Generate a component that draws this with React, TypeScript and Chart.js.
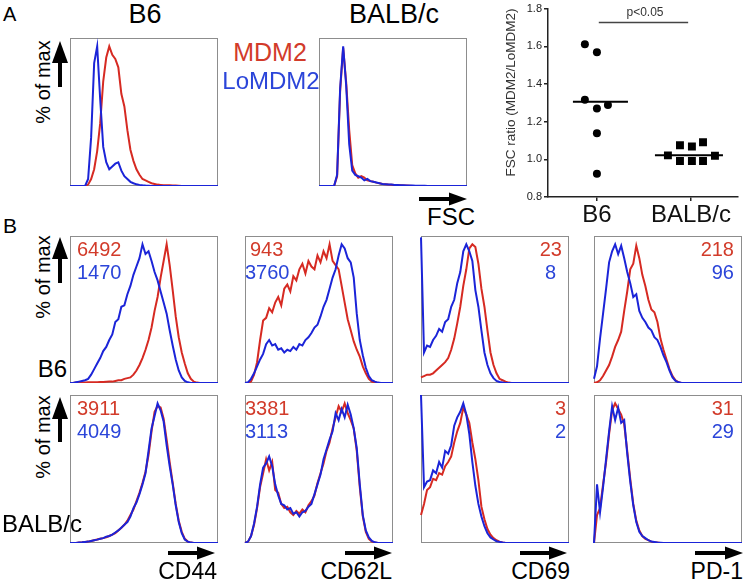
import React, { useEffect, useRef } from 'react';
import { Chart, registerables } from 'chart.js';

Chart.register(...registerables);

const FONT = '"Liberation Sans", Arial, Helvetica, sans-serif';
Chart.defaults.font.family = FONT;

const RED = '#d62a22';
const BLUE = '#1b24d8';
const RED_TEXT = '#d23b2a';
const BLUE_TEXT = '#2b45d9';
const Y_MAX = 106;
const PAD = 3;

// channel (bin) index, 50 bins across each histogram
const CHANNELS = [
  0, 1, 2, 3, 4, 5, 6, 7, 8, 9, 10, 11, 12, 13, 14, 15, 16, 17, 18, 19, 20, 21, 22, 23, 24,
  25, 26, 27, 28, 29, 30, 31, 32, 33, 34, 35, 36, 37, 38, 39, 40, 41, 42, 43, 44, 45, 46, 47, 48, 49,
];

// Panel A: FSC, % of max
const FSC_B6_MDM2 = [0, 0, 0, 0, 0, 0, 1, 5, 12, 25, 45, 75, 92, 100, 94, 91, 85, 66, 57, 40, 26, 18, 12, 8, 5, 4, 3, 2, 1.5, 1, 0.8, 0.6, 0.5, 0.5, 0.4, 0.3, 0.2, 0, 0, 0, 0, 0, 0, 0, 0, 0, 0, 0, 0, 0];
const FSC_B6_LO = [0, 0, 0, 0, 0, 0, 5, 35, 88, 100, 62, 28, 17, 12, 14, 16, 17, 11, 7, 5, 3, 2, 1.2, 0.8, 0.5, 0.3, 0.2, 0, 0, 0, 0, 0, 0, 0, 0, 0, 0, 0, 0, 0, 0, 0, 0, 0, 0, 0, 0, 0, 0, 0];
const FSC_BALB_MDM2 = [0, 0, 0, 0, 0, 0, 7, 68, 99, 74, 40, 15, 9, 6, 7, 6, 4, 3.5, 3, 2.4, 2, 1.5, 1.3, 1, 0.9, 0.7, 0.6, 0.5, 0.4, 0.3, 0.2, 0, 0, 0, 0, 0, 0, 0, 0, 0, 0, 0, 0, 0, 0, 0, 0, 0, 0, 0];
const FSC_BALB_LO = [0, 0, 0, 0, 0, 0, 8, 70, 100, 72, 30, 11, 8, 7, 6, 4, 5, 3.5, 3, 2.5, 2, 1.5, 1.3, 1.1, 1, 0.8, 0.7, 0.6, 0.5, 0.4, 0.3, 0.3, 0.2, 0.2, 0.2, 0.1, 0, 0, 0, 0, 0, 0, 0, 0, 0, 0, 0, 0, 0, 0];

// Panel B, B6 row
const CD44_B6_MDM2 = [0, 0, 0.3, 0.3, 0.4, 0.4, 0.5, 0.5, 0.6, 0.6, 0.7, 0.8, 0.9, 1, 1, 1.5, 2, 2, 3, 3.5, 4, 6, 9, 13, 18, 24, 31, 40, 52, 62, 76, 88, 100, 85, 67, 48, 33, 22, 14, 7, 3, 1, 0.3, 0, 0, 0, 0, 0, 0, 0];
const CD44_B6_LO = [0, 0, 0.5, 1, 1.5, 2, 3, 6, 10, 14, 18, 23, 26, 31, 35, 44, 46, 55, 56, 64, 70, 78, 84, 90, 100, 93, 95, 88, 80, 74, 66, 58, 50, 38, 27, 17, 9, 4, 1.5, 0.5, 0, 0, 0, 0, 0, 0, 0, 0, 0, 0];
const CD62L_B6_MDM2 = [0, 0, 1, 6, 15, 31, 45, 47, 54, 51, 58, 62, 56, 68, 71, 66, 77, 74, 82, 86, 79, 88, 84, 82, 92, 87, 95, 90, 100, 88, 85, 82, 70, 58, 46, 38, 30, 24, 19, 12, 7, 3, 1, 0.3, 0, 0, 0, 0, 0, 0];
const CD62L_B6_LO = [0, 0.5, 3, 7, 12, 17, 21, 28, 31, 27, 28, 24, 25, 22, 24, 23, 26, 24, 28, 27, 31, 33, 36, 40, 42, 48, 55, 60, 68, 76, 82, 92, 100, 97, 90, 87, 76, 50, 31, 20, 11, 5, 2, 1, 0.3, 0, 0, 0, 0, 0];
const CD69_B6_MDM2 = [4, 5, 6, 6, 7, 9, 11, 13, 15, 18, 24, 32, 43, 55, 70, 82, 97, 100, 98, 86, 68, 55, 38, 22, 13, 7, 3, 2, 1, 0.3, 0, 0, 0, 0, 0, 0, 0, 0, 0, 0, 0, 0, 0, 0, 0, 0, 0, 0, 0, 0];
const CD69_B6_LO = [105, 22, 27, 26, 31, 34, 39, 37, 44, 46, 55, 60, 72, 80, 95, 100, 95, 88, 67, 55, 38, 22, 13, 7, 3.5, 1.5, 0.7, 0.3, 0, 0, 0, 0, 0, 0, 0, 0, 0, 0, 0, 0, 0, 0, 0, 0, 0, 0, 0, 0, 0, 0];
const PD1_B6_MDM2 = [0, 0.5, 2, 5, 9, 13, 19, 26, 31, 37, 52, 66, 82, 86, 99, 90, 78, 70, 60, 53, 51, 44, 32, 24, 17, 10, 5, 2, 0.5, 0, 0, 0, 0, 0, 0, 0, 0, 0, 0, 0, 0, 0, 0, 0, 0, 0, 0, 0, 0, 0];
const PD1_B6_LO = [3, 12, 32, 50, 68, 87, 95, 100, 93, 99, 90, 80, 72, 62, 64, 52, 47, 44, 40, 38, 33, 31, 26, 20, 15, 9, 4, 1.5, 0.5, 0, 0, 0, 0, 0, 0, 0, 0, 0, 0, 0, 0, 0, 0, 0, 0, 0, 0, 0, 0, 0];

// Panel B, BALB/c row
const CD44_BALB_MDM2 = [0, 0, 0, 0.3, 0.5, 0.8, 1, 1.5, 2, 2.5, 3, 3.5, 4, 5, 6, 7, 9, 11, 13, 16, 20, 24, 30, 36, 43, 51, 63, 80, 94, 98, 97, 89, 74, 58, 43, 28, 16, 8, 3, 1, 0.3, 0, 0, 0, 0, 0, 0, 0, 0, 0];
const CD44_BALB_LO = [0, 0, 0, 0.3, 0.5, 0.8, 1, 1.5, 2, 2.4, 3, 3.5, 4.5, 5, 6, 7.5, 9, 11, 13, 15, 19, 25, 29, 35, 42, 50, 66, 82, 91, 100, 95, 87, 70, 55, 42, 27, 15, 7, 2.5, 1, 0.3, 0, 0, 0, 0, 0, 0, 0, 0, 0];
const CD62L_BALB_MDM2 = [0, 1, 5, 13, 25, 40, 50, 60, 52, 58, 38, 36, 28, 25, 26, 22, 20, 23, 21, 24, 22, 27, 30, 34, 43, 50, 57, 66, 72, 82, 90, 98, 94, 100, 93, 88, 82, 66, 40, 19, 8, 3, 1, 0.4, 0, 0, 0, 0, 0, 0];
const CD62L_BALB_LO = [0, 1, 5, 14, 26, 42, 54, 57, 62, 55, 42, 34, 28, 27, 24, 25, 21, 22, 19, 22, 23, 26, 28, 35, 42, 49, 60, 67, 74, 80, 93, 88, 96, 90, 99, 92, 82, 68, 42, 20, 9, 4, 1.5, 0.5, 0, 0, 0, 0, 0, 0];
const CD69_BALB_MDM2 = [20, 28, 38, 40, 46, 45, 50, 49, 55, 58, 62, 72, 80, 86, 97, 92, 86, 72, 60, 45, 26, 17, 10, 6, 3.5, 2, 1, 0.4, 0, 0, 0, 0, 0, 0, 0, 0, 0, 0, 0, 0, 0, 0, 0, 0, 0, 0, 0, 0, 0, 0];
const CD69_BALB_LO = [106, 40, 44, 45, 52, 50, 58, 54, 66, 64, 70, 84, 90, 94, 100, 92, 78, 58, 41, 28, 19, 12, 7, 4, 2.5, 1.3, 0.8, 0.3, 0, 0, 0, 0, 0, 0, 0, 0, 0, 0, 0, 0, 0, 0, 0, 0, 0, 0, 0, 0, 0, 0];
const PD1_BALB_MDM2 = [0, 20, 25, 42, 58, 78, 95, 100, 96, 92, 85, 66, 46, 28, 16, 9, 5, 3, 2, 1, 0.5, 0.3, 0, 0, 0, 0, 0, 0, 0, 0, 0, 0, 0, 0, 0, 0, 0, 0, 0, 0, 0, 0, 0, 0, 0, 0, 0, 0, 0, 0];
const PD1_BALB_LO = [0, 42, 22, 40, 60, 80, 98, 88, 97, 86, 88, 64, 44, 27, 15, 8, 5, 3.5, 2, 1, 0.7, 0.4, 0.2, 0, 0, 0, 0, 0, 0, 0, 0, 0, 0, 0, 0, 0, 0, 0, 0, 0, 0, 0, 0, 0, 0, 0, 0, 0, 0, 0];

// MFI numbers
const MFI_B6_MDM2 = ['6492', '943', '23', '218'];
const MFI_B6_LO = ['1470', '3760', '8', '96'];
const MFI_BALB_MDM2 = ['3911', '3381', '3', '31'];
const MFI_BALB_LO = ['4049', '3113', '2', '29'];
const MARKERS = ['CD44', 'CD62L', 'CD69', 'PD-1'];

// Dot plot: FSC ratio (MDM2/LoMDM2)
const GROUPS = ['B6', 'BALB/c'];
const GROUP_POS = [1, 2];
const B6_RATIO = [1.611, 1.568, 1.316, 1.27, 1.288, 1.139, 0.923];
const B6_JITTER = [-0.128, 0, -0.128, 0, 0.117, 0, 0];
const BALB_RATIO = [1.021, 1.075, 1.068, 1.091, 0.991, 0.991, 0.991, 1.019];
const BALB_JITTER = [-0.245, -0.117, 0.01, 0.128, -0.117, 0.01, 0.128, 0.255];
const MEDIANS = [1.305, 1.021];
const MEDIAN_HALF = [[-0.255, 0.33], [-0.383, 0.34]];
const SIG_Y = 1.726;
const SIG_X = [1.02, 1.97];

type HistProps = { left: number; top: number; w: number; h: number; mdm2: number[]; lo: number[] };

function Histogram({ left, top, w, h, mdm2, lo }: HistProps) {
  const ref = useRef<HTMLCanvasElement>(null);
  useEffect(() => {
    const chart = new Chart(ref.current as HTMLCanvasElement, {
      type: 'line',
      data: {
        labels: CHANNELS,
        datasets: [
          { label: 'LoMDM2', data: lo, borderColor: BLUE, borderWidth: 2, pointRadius: 0, tension: 0, fill: false, order: 0 },
          { label: 'MDM2', data: mdm2, borderColor: RED, borderWidth: 2, pointRadius: 0, tension: 0, fill: false, order: 1 },
        ],
      },
      options: {
        responsive: false,
        animation: false,
        devicePixelRatio: 1,
        events: [],
        layout: { padding: PAD },
        scales: {
          x: { display: false, offset: false },
          y: { display: false, min: 0, max: Y_MAX },
        },
        plugins: { legend: { display: false }, tooltip: { enabled: false } },
      },
    });
    return () => chart.destroy();
  }, []);
  return (
    <>
      <div style={{ position: 'absolute', left, top, width: w, height: h, border: '1px solid #8d8d8d', boxSizing: 'border-box' }} />
      <canvas
        ref={ref}
        width={w + 2 * PAD}
        height={h + 2 * PAD}
        style={{ position: 'absolute', left: left - PAD, top: top - PAD, width: w + 2 * PAD, height: h + 2 * PAD }}
      />
    </>
  );
}

function DotPlot() {
  const ref = useRef<HTMLCanvasElement>(null);
  useEffect(() => {
    const b6 = B6_RATIO.map((y, i) => ({ x: GROUP_POS[0] + B6_JITTER[i], y }));
    const balb = BALB_RATIO.map((y, i) => ({ x: GROUP_POS[1] + BALB_JITTER[i], y }));
    const med = MEDIANS.map((m, i) => [
      { x: GROUP_POS[i] + MEDIAN_HALF[i][0], y: m },
      { x: GROUP_POS[i] + MEDIAN_HALF[i][1], y: m },
    ]);
    const chart = new Chart(ref.current as HTMLCanvasElement, {
      type: 'scatter',
      data: {
        datasets: [
          { label: 'B6', data: b6, pointStyle: 'circle', pointRadius: 4, backgroundColor: '#000', borderColor: '#000', borderWidth: 0 },
          { label: 'BALB/c', data: balb, pointStyle: 'rect', pointRadius: 5.6, backgroundColor: '#000', borderColor: '#000', borderWidth: 0 },
          { label: 'median B6', data: med[0], showLine: true, pointRadius: 0, borderColor: '#000', borderWidth: 2 },
          { label: 'median BALB/c', data: med[1], showLine: true, pointRadius: 0, borderColor: '#000', borderWidth: 2 },
          { label: 'p', data: SIG_X.map((x) => ({ x, y: SIG_Y })), showLine: true, pointRadius: 0, borderColor: '#444', borderWidth: 1.6 },
        ],
      },
      options: {
        responsive: false,
        animation: false,
        devicePixelRatio: 1,
        events: [],
        layout: { padding: { left: 9, top: 7, right: 6, bottom: 0 } },
        scales: {
          x: {
            type: 'linear',
            min: 0.48,
            max: 2.5,
            afterBuildTicks: (s: any) => {
              s.ticks = GROUP_POS.map((v) => ({ value: v }));
            },
            afterFit: (s: any) => {
              s.height = 33;
            },
            grid: { drawOnChartArea: false, drawTicks: true, tickLength: 4, color: '#222', lineWidth: 1.5 },
            border: { display: true, color: '#222', width: 1.5 },
            ticks: {
              autoSkip: false,
              maxRotation: 0,
              padding: 0,
              color: '#111',
              font: { size: 24 },
              callback: (v: any) => {
                const i = GROUP_POS.indexOf(Number(v));
                return i >= 0 ? GROUPS[i] : '';
              },
            },
          },
          y: {
            min: 0.8,
            max: 1.8,
            afterFit: (s: any) => {
              s.width = 49;
            },
            grid: { drawOnChartArea: false, drawTicks: true, tickLength: 4, color: '#222', lineWidth: 1.5 },
            border: { display: true, color: '#222', width: 1.5 },
            ticks: { stepSize: 0.2, padding: 2, color: '#222', font: { size: 11 }, callback: (v: any) => Number(v).toFixed(1) },
            title: { display: true, text: 'FSC ratio (MDM2/LoMDM2)', color: '#333', align: 'end', font: { size: 13.5 }, padding: { top: 4, bottom: 0 } },
          },
        },
        plugins: { legend: { display: false }, tooltip: { enabled: false } },
      },
    });
    return () => chart.destroy();
  }, []);
  return <canvas ref={ref} width={254} height={230} style={{ position: 'absolute', left: 490, top: 0, width: 254, height: 230 }} />;
}

type LabelProps = { x: number; y: number; size: number; color?: string; align?: 'left' | 'center' | 'right'; children: React.ReactNode };

function Label({ x, y, size, color = '#000', align = 'left', children }: LabelProps) {
  const tx = align === 'center' ? '-50%' : align === 'right' ? '-100%' : '0';
  return (
    <div
      style={{
        position: 'absolute',
        left: x,
        top: y - 0.13 * size,
        fontSize: size,
        lineHeight: 1,
        color,
        whiteSpace: 'nowrap',
        transform: `translateX(${tx})`,
        fontFamily: FONT,
      }}
    >
      {children}
    </div>
  );
}

function VLabel({ cx, cy, size, children }: { cx: number; cy: number; size: number; children: React.ReactNode }) {
  return (
    <div
      style={{
        position: 'absolute',
        left: cx,
        top: cy,
        fontSize: size,
        lineHeight: 1,
        whiteSpace: 'nowrap',
        transform: 'translate(-50%, -50%) rotate(-90deg)',
        fontFamily: FONT,
      }}
    >
      {children}
    </div>
  );
}

function ArrowRight({ x1, x2, y }: { x1: number; x2: number; y: number }) {
  const L = x2 - x1;
  return (
    <svg style={{ position: 'absolute', left: x1, top: y - 7, overflow: 'visible' }} width={L} height={14}>
      <rect x={0} y={5} width={L - 17} height={4} fill="#000" />
      <polygon points={`${L - 18},0.5 ${L},7 ${L - 18},13.5`} fill="#000" />
    </svg>
  );
}

function ArrowUp({ x, y1, y2 }: { x: number; y1: number; y2: number }) {
  const L = y2 - y1;
  return (
    <svg style={{ position: 'absolute', left: x - 8, top: y1, overflow: 'visible' }} width={16} height={L}>
      <polygon points={`8,0 16,22 0,22`} fill="#000" />
      <rect x={6} y={21} width={4} height={L - 21} fill="#000" />
    </svg>
  );
}

const B_X = [70, 245, 421, 594];
const B_W = 148;
const ROW1_TOP = 236;
const ROW2_TOP = 395;

export default function App() {
  useEffect(() => {
    document.body.style.margin = '0';
  }, []);
  const row1 = [
    [CD44_B6_MDM2, CD44_B6_LO],
    [CD62L_B6_MDM2, CD62L_B6_LO],
    [CD69_B6_MDM2, CD69_B6_LO],
    [PD1_B6_MDM2, PD1_B6_LO],
  ];
  const row2 = [
    [CD44_BALB_MDM2, CD44_BALB_LO],
    [CD62L_BALB_MDM2, CD62L_BALB_LO],
    [CD69_BALB_MDM2, CD69_BALB_LO],
    [PD1_BALB_MDM2, PD1_BALB_LO],
  ];
  const numPos: { x: number; align: 'left' | 'right' }[][] = [
    [{ x: 77, align: 'left' }, { x: 77, align: 'left' }],
    [{ x: 250, align: 'left' }, { x: 245, align: 'left' }],
    [{ x: 562, align: 'right' }, { x: 556, align: 'right' }],
    [{ x: 734, align: 'right' }, { x: 734, align: 'right' }],
  ];
  const numPos2: { x: number; align: 'left' | 'right' }[][] = [
    [{ x: 77, align: 'left' }, { x: 77, align: 'left' }],
    [{ x: 245, align: 'left' }, { x: 245, align: 'left' }],
    [{ x: 566, align: 'right' }, { x: 566, align: 'right' }],
    [{ x: 734, align: 'right' }, { x: 734, align: 'right' }],
  ];
  const arrowX: [number, number][] = [
    [168, 215],
    [345, 392],
    [520, 567],
    [695, 743],
  ];
  const markerRight = [217, 392, 570, 743];
  return (
    <div style={{ position: 'absolute', left: 0, top: 0, width: 744, height: 586, background: '#fff', overflow: 'hidden', fontFamily: FONT }}>
      {/* Panel A */}
      <Label x={3} y={7} size={20}>A</Label>
      <Label x={145} y={5} size={27} align="center">B6</Label>
      <Label x={394} y={5} size={27} align="center">BALB/c</Label>
      <VLabel cx={43} cy={82} size={20}>% of max</VLabel>
      <ArrowUp x={60} y1={41} y2={87} />
      <Histogram left={70} top={38} w={148} h={148} mdm2={FSC_B6_MDM2} lo={FSC_B6_LO} />
      <Histogram left={319} top={38} w={148} h={148} mdm2={FSC_BALB_MDM2} lo={FSC_BALB_LO} />
      <Label x={270} y={43} size={25} color={RED_TEXT} align="center">MDM2</Label>
      <Label x={271} y={72} size={24} color={BLUE_TEXT} align="center">LoMDM2</Label>
      <ArrowRight x1={419} x2={467} y={199} />
      <Label x={427} y={208} size={24}>FSC</Label>
      <DotPlot />
      <Label x={645} y={8} size={12} color="#333" align="center">p&lt;0.05</Label>

      {/* Panel B */}
      <Label x={3} y={218} size={21}>B</Label>
      <VLabel cx={43} cy={277} size={20}>% of max</VLabel>
      <ArrowUp x={60} y1={237} y2={283} />
      <VLabel cx={43} cy={437} size={20}>% of max</VLabel>
      <ArrowUp x={60} y1={397} y2={442} />
      <Label x={67} y={360} size={24} align="right">B6</Label>
      {row1.map((d, i) => (
        <Histogram key={'r1' + i} left={B_X[i]} top={ROW1_TOP} w={B_W} h={147} mdm2={d[0]} lo={d[1]} />
      ))}
      {row2.map((d, i) => (
        <Histogram key={'r2' + i} left={B_X[i]} top={ROW2_TOP} w={B_W} h={148} mdm2={d[0]} lo={d[1]} />
      ))}
      <Label x={2} y={515} size={24}>BALB/c</Label>
      {MFI_B6_MDM2.map((t, i) => (
        <Label key={'a' + i} x={numPos[i][0].x} y={242} size={20} color={RED_TEXT} align={numPos[i][0].align}>{t}</Label>
      ))}
      {MFI_B6_LO.map((t, i) => (
        <Label key={'b' + i} x={numPos[i][1].x} y={265} size={20} color={BLUE_TEXT} align={numPos[i][1].align}>{t}</Label>
      ))}
      {MFI_BALB_MDM2.map((t, i) => (
        <Label key={'c' + i} x={numPos2[i][0].x} y={401} size={20} color={RED_TEXT} align={numPos2[i][0].align}>{t}</Label>
      ))}
      {MFI_BALB_LO.map((t, i) => (
        <Label key={'d' + i} x={numPos2[i][1].x} y={424} size={20} color={BLUE_TEXT} align={numPos2[i][1].align}>{t}</Label>
      ))}
      {MARKERS.map((m, i) => (
        <React.Fragment key={m}>
          <ArrowRight x1={arrowX[i][0]} x2={arrowX[i][1]} y={553} />
          <Label x={markerRight[i]} y={563} size={23} align="right">{m}</Label>
        </React.Fragment>
      ))}
    </div>
  );
}
